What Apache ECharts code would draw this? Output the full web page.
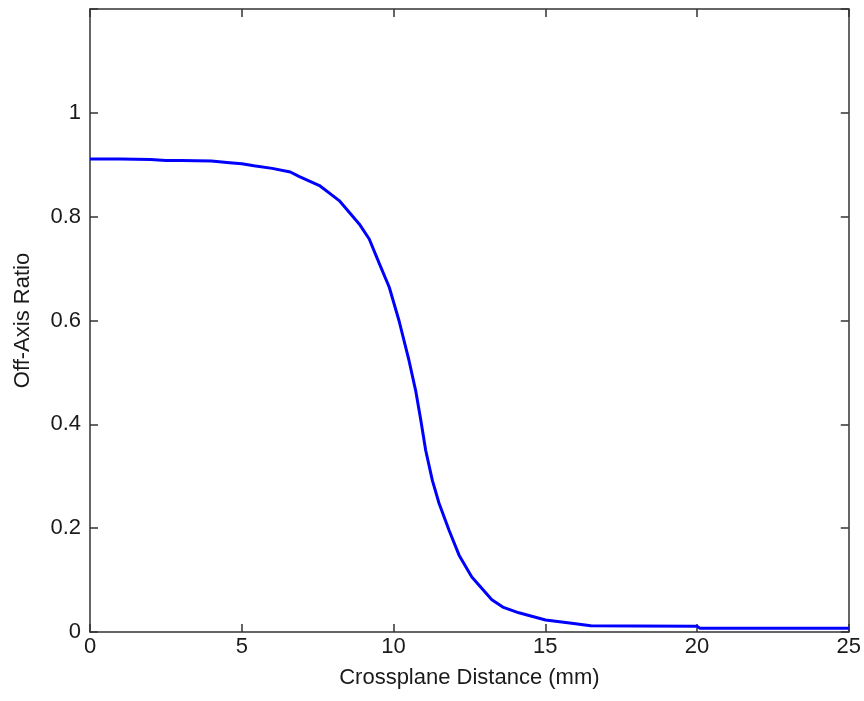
<!DOCTYPE html>
<html>
<head>
<meta charset="utf-8">
<title>Off-Axis Ratio</title>
<script src="https://cdn.jsdelivr.net/npm/echarts@6/dist/echarts.min.js"></script>
<style>
  html, body { margin: 0; padding: 0; background: #fff; }
  #chart { width: 864px; height: 701px; }
</style>
</head>
<body>
<div id="chart"></div>
<script>
// Crossplane profile: distance from the central axis (mm) and off-axis ratio
const distanceMm = [0, 1, 2, 2.5, 3, 4, 4.6, 5, 5.4, 6, 6.6, 6.9, 7.56, 8.21, 8.87, 9.2,
  9.53, 9.86, 10.18, 10.51, 10.73, 10.9, 11.06, 11.28, 11.5, 11.83, 12.16, 12.58, 13.24,
  13.6, 14.13, 15.01, 15.87, 16.5, 18, 20, 20.1, 22, 25];
const offAxisRatio = [0.911, 0.911, 0.910, 0.908, 0.908, 0.907, 0.904, 0.902, 0.898, 0.893,
  0.886, 0.877, 0.860, 0.831, 0.786, 0.757, 0.710, 0.664, 0.600, 0.523, 0.465, 0.408,
  0.350, 0.292, 0.248, 0.196, 0.148, 0.106, 0.062, 0.048, 0.037, 0.023, 0.017, 0.012,
  0.0115, 0.011, 0.007, 0.007, 0.007];

// Axis ticks
const xTicks = { min: 0, max: 25, step: 5 };
const yTicks = { min: 0, max: 1.2, step: 0.2, lastLabelled: 1 };

const xTitle = 'Crossplane Distance (mm)';
const yTitle = 'Off-Axis Ratio';

const points = distanceMm.map((d, i) => [d, offAxisRatio[i]]);

const fontFamily = '"Liberation Sans", Arial, sans-serif';
const textColor = '#1a1a1a';
const frame = { show: true, onZero: false, lineStyle: { color: '#333', width: 1.5 } };
const tick = { show: true, inside: true, length: 8, lineStyle: { color: '#333', width: 1.5 } };

const chart = echarts.init(document.getElementById('chart'), null, { renderer: 'canvas' });
chart.setOption({
  backgroundColor: '#fff',
  animation: false,
  grid: { left: 90, right: 13, top: 9, bottom: 69, containLabel: false },
  xAxis: [
    {
      type: 'value', position: 'bottom',
      min: xTicks.min, max: xTicks.max, interval: xTicks.step,
      name: xTitle, nameLocation: 'middle', nameGap: 35,
      nameTextStyle: { fontFamily, fontSize: 22, color: textColor },
      axisLine: frame,
      axisTick: tick,
      axisLabel: { fontFamily, fontSize: 22, color: textColor, margin: 4 },
      splitLine: { show: false }
    },
    {
      type: 'value', position: 'top',
      min: xTicks.min, max: xTicks.max, interval: xTicks.step,
      axisLine: frame,
      axisTick: tick,
      axisLabel: { show: false },
      splitLine: { show: false }
    }
  ],
  yAxis: [
    {
      type: 'value', position: 'left',
      min: yTicks.min, max: yTicks.max, interval: yTicks.step,
      name: yTitle, nameLocation: 'middle', nameGap: 56,
      nameTextStyle: { fontFamily, fontSize: 22, color: textColor },
      axisLine: frame,
      axisTick: tick,
      axisLabel: {
        fontFamily, fontSize: 22, color: textColor, margin: 9,
        formatter: v => (v > yTicks.lastLabelled + 1e-9 ? '' : String(+v.toFixed(1)))
      },
      splitLine: { show: false }
    },
    {
      type: 'value', position: 'right',
      min: yTicks.min, max: yTicks.max, interval: yTicks.step,
      axisLine: frame,
      axisTick: tick,
      axisLabel: { show: false },
      splitLine: { show: false }
    }
  ],
  series: [
    {
      type: 'line',
      xAxisIndex: 0, yAxisIndex: 0,
      data: points,
      showSymbol: false,
      smooth: false,
      lineStyle: { color: '#0000ff', width: 3 },
      z: 1
    }
  ]
});
</script>
</body>
</html>
